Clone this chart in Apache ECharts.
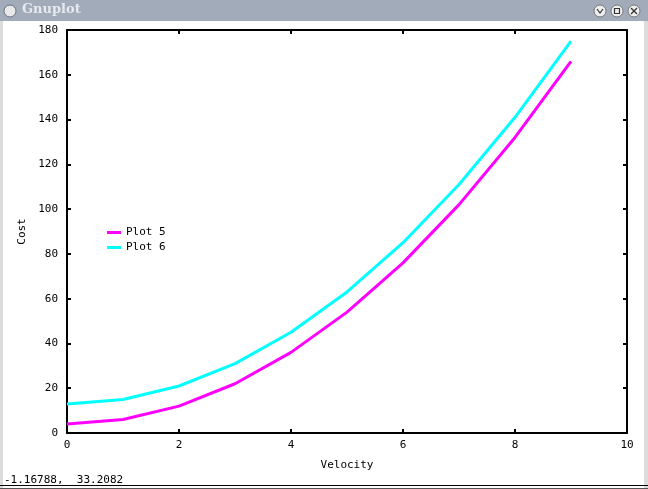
<!DOCTYPE html>
<html>
<head>
<meta charset="utf-8">
<script src="https://cdn.jsdelivr.net/npm/echarts@6/dist/echarts.min.js"></script>
<style>
html,body{margin:0;padding:0;background:#fff;}
#c{width:648px;height:489px;}
</style>
</head>
<body>
<div id="c"></div>
<script>
var velocity = [0, 1, 2, 3, 4, 5, 6, 7, 8, 9];
var plot5 = [4, 6, 12, 22, 36, 54, 76, 102, 132, 166];
var plot6 = [13, 15, 21, 31, 45, 63, 85, 111, 141, 175];
var xTicks = [0, 2, 4, 6, 8, 10];
var yTicks = [0, 20, 40, 60, 80, 100, 120, 140, 160, 180];

var font = '"DejaVu Sans Mono", "Liberation Mono", monospace';
var chart = echarts.init(document.getElementById('c'), null, {renderer: 'canvas'});
function pairs(xs, ys){ return xs.map(function(x,i){return [x, ys[i]];}); }
var axisLine = {show: true, onZero: false, lineStyle: {color: '#000', width: 2}};
var tick = {show: true, inside: true, length: 4, lineStyle: {color: '#000', width: 2}};
chart.setOption({
  animation: false,
  backgroundColor: '#fff',
  grid: {left: 67, right: 21, top: 30, bottom: 56, containLabel: false},
  legend: {
    left: 102, top: 222, orient: 'vertical', itemGap: 4,
    icon: 'rect', itemWidth: 14, itemHeight: 3,
    textStyle: {fontFamily: font, fontSize: 11, color: '#000'},
    data: ['Plot 5', 'Plot 6']
  },
  xAxis: [{
    type: 'value', min: 0, max: 10, interval: 2, position: 'bottom',
    name: 'Velocity', nameLocation: 'middle', nameGap: 27,
    nameTextStyle: {fontFamily: font, fontSize: 11, color: '#000'},
    axisLine: axisLine, axisTick: tick, splitLine: {show: false},
    axisLabel: {fontFamily: font, fontSize: 11, color: '#000', margin: 7,
      customValues: xTicks}
  }, {
    type: 'value', min: 0, max: 10, interval: 2, position: 'top',
    axisLine: axisLine, axisTick: tick, splitLine: {show: false},
    axisLabel: {show: false}
  }],
  yAxis: [{
    type: 'value', min: 0, max: 180, interval: 20, position: 'left',
    name: 'Cost', nameLocation: 'middle', nameGap: 38, nameRotate: 90,
    nameTextStyle: {fontFamily: font, fontSize: 11, color: '#000'},
    axisLine: axisLine, axisTick: tick, splitLine: {show: false},
    axisLabel: {fontFamily: font, fontSize: 11, color: '#000', margin: 9,
      customValues: yTicks}
  }, {
    type: 'value', min: 0, max: 180, interval: 20, position: 'right',
    axisLine: axisLine, axisTick: tick, splitLine: {show: false},
    axisLabel: {show: false}
  }],
  series: [{
    name: 'Plot 5', type: 'line', data: pairs(velocity, plot5),
    showSymbol: false, symbol: 'none', color: '#ff00ff',
    lineStyle: {width: 3, color: '#ff00ff'}
  }, {
    name: 'Plot 6', type: 'line', data: pairs(velocity, plot6),
    showSymbol: false, symbol: 'none', color: '#00ffff',
    lineStyle: {width: 3, color: '#00ffff'}
  }],
  graphic: [
    {type: 'rect', shape: {x: 0, y: 0, width: 648, height: 21}, style: {fill: '#a1abba'}},
    {type: 'circle', shape: {cx: 10, cy: 11, r: 6}, style: {fill: '#e8e8e8', stroke: '#6b7280', lineWidth: 1}},
    {type: 'text', left: 22, top: 3, style: {text: 'Gnuplot', fill: '#e6e9ee', font: 'bold 13px "DejaVu Serif", serif'}},
    {type: 'circle', shape: {cx: 600, cy: 11, r: 6}, style: {fill: '#eeeeee', stroke: '#777', lineWidth: 1}},
    {type: 'circle', shape: {cx: 617, cy: 11, r: 6}, style: {fill: '#eeeeee', stroke: '#777', lineWidth: 1}},
    {type: 'circle', shape: {cx: 634, cy: 11, r: 6}, style: {fill: '#eeeeee', stroke: '#777', lineWidth: 1}},
    {type: 'polyline', shape: {points: [[597,9],[600,13],[603,9]]}, style: {stroke: '#333', lineWidth: 1.2, fill: null}},
    {type: 'rect', shape: {x: 614.5, y: 8.5, width: 5, height: 5}, style: {stroke: '#333', lineWidth: 1.2, fill: null}},
    {type: 'line', shape: {x1: 631, y1: 8, x2: 637, y2: 14}, style: {stroke: '#333', lineWidth: 1.2}},
    {type: 'line', shape: {x1: 637, y1: 8, x2: 631, y2: 14}, style: {stroke: '#333', lineWidth: 1.2}},
    {type: 'rect', shape: {x: 0, y: 21, width: 3, height: 468}, style: {fill: '#dcdcdc'}},
    {type: 'rect', shape: {x: 644, y: 21, width: 4, height: 468}, style: {fill: '#dcdcdc'}},
    {type: 'line', shape: {x1: 0, y1: 485.5, x2: 648, y2: 485.5}, style: {stroke: '#000', lineWidth: 1}},
    {type: 'line', shape: {x1: 0, y1: 488.5, x2: 648, y2: 488.5}, style: {stroke: '#555', lineWidth: 1}},
    {type: 'text', left: 4, top: 475, style: {text: '-1.16788,  33.2082', fill: '#000', font: '11px ' + font}}
  ]
});
</script>
</body>
</html>
